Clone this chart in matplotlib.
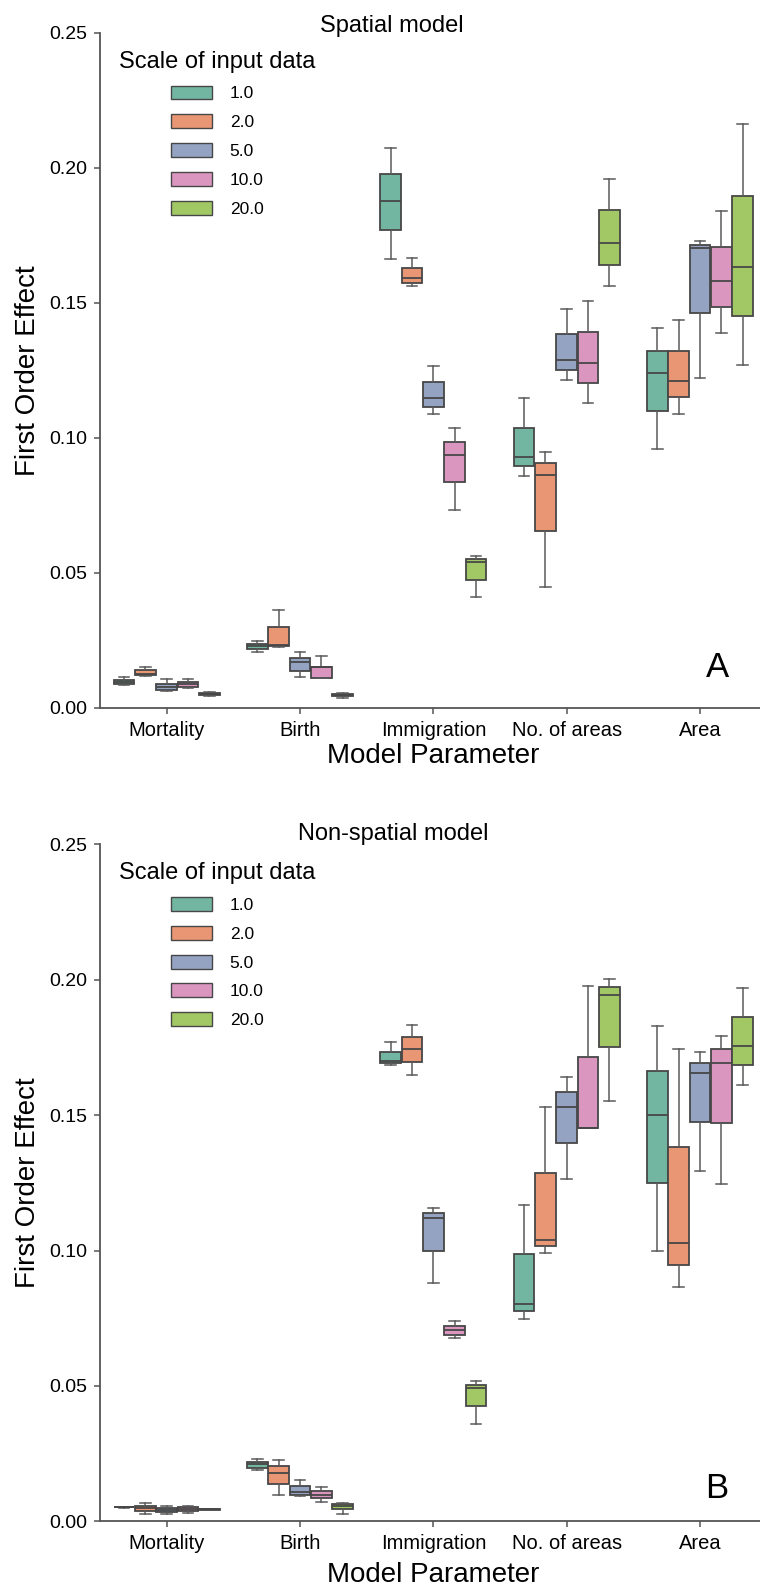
import colorsys
import matplotlib
matplotlib.use("Agg")
import matplotlib.pyplot as plt
from matplotlib.patches import Patch

plt.rcParams['font.family'] = ['Liberation Sans', 'DejaVu Sans']

params = ["Mortality", "Birth", "Immigration", "No. of areas", "Area"]
scales = ["1.0", "2.0", "5.0", "10.0", "20.0"]
titles = ["Spatial model", "Non-spatial model"]
panel_tags = ["A", "B"]

# ---- Spatial model: per parameter, per scale (1, 2, 5, 10, 20) ----
spatial_whislo = [
    [0.0084, 0.0119, 0.0063, 0.0073, 0.00444],
    [0.02074, 0.02248, 0.01148, 0.0110, 0.00348],
    [0.1661, 0.1562, 0.1087, 0.0733, 0.0409],
    [0.0858, 0.0447, 0.1214, 0.1127, 0.1563],
    [0.0958, 0.1089, 0.1221, 0.1387, 0.1268],
]
spatial_q1 = [
    [0.00867, 0.01211, 0.00644, 0.00756, 0.00459],
    [0.02185, 0.02274, 0.0137, 0.01111, 0.00422],
    [0.1769, 0.1574, 0.1115, 0.0836, 0.0473],
    [0.0894, 0.0653, 0.1251, 0.1204, 0.1641],
    [0.1098, 0.1150, 0.1463, 0.1483, 0.1452],
]
spatial_med = [
    [0.00952, 0.01259, 0.00767, 0.00867, 0.00507],
    [0.02296, 0.02311, 0.01704, 0.0149, 0.0047],
    [0.1878, 0.1593, 0.1146, 0.0936, 0.0539],
    [0.0929, 0.0863, 0.1289, 0.1278, 0.1722],
    [0.1239, 0.1211, 0.1704, 0.1581, 0.1632],
]
spatial_q3 = [
    [0.01026, 0.01396, 0.00867, 0.00952, 0.00544],
    [0.0237, 0.0300, 0.01852, 0.01496, 0.00519],
    [0.1977, 0.1630, 0.1205, 0.0984, 0.0550],
    [0.1035, 0.0906, 0.1385, 0.1391, 0.1842],
    [0.1321, 0.1322, 0.1714, 0.1707, 0.1896],
]
spatial_whishi = [
    [0.01137, 0.01496, 0.01052, 0.01052, 0.0057],
    [0.0247, 0.03607, 0.02074, 0.01926, 0.00544],
    [0.2074, 0.1667, 0.1267, 0.1036, 0.0563],
    [0.1146, 0.0948, 0.1478, 0.1505, 0.1958],
    [0.1405, 0.1435, 0.1727, 0.1839, 0.2163],
]

# ---- Non-spatial model ----
nonspatial_whislo = [
    [0.0050, 0.0028, 0.0028, 0.0030, 0.0042],
    [0.0189, 0.0098, 0.0092, 0.0070, 0.0027],
    [0.1685, 0.1649, 0.0881, 0.0677, 0.0359],
    [0.0748, 0.0991, 0.1264, 0.1451, 0.1553],
    [0.0999, 0.0864, 0.1294, 0.1244, 0.1611],
]
nonspatial_q1 = [
    [0.0051, 0.0038, 0.0034, 0.0037, 0.0043],
    [0.0198, 0.0138, 0.0098, 0.0085, 0.0045],
    [0.1692, 0.1696, 0.0998, 0.0689, 0.0426],
    [0.0775, 0.1017, 0.1398, 0.1451, 0.1750],
    [0.1249, 0.0945, 0.1475, 0.1470, 0.1685],
]
nonspatial_med = [
    [0.0052, 0.0049, 0.0043, 0.0044, 0.0044],
    [0.0210, 0.0177, 0.0109, 0.0098, 0.0057],
    [0.1699, 0.1743, 0.1119, 0.0706, 0.0493],
    [0.0804, 0.1039, 0.1529, 0.1453, 0.1945],
    [0.1499, 0.1027, 0.1654, 0.1694, 0.1756],
]
nonspatial_q3 = [
    [0.0053, 0.0058, 0.0050, 0.0053, 0.0045],
    [0.0219, 0.0203, 0.0129, 0.0112, 0.0064],
    [0.1734, 0.1787, 0.1140, 0.0720, 0.0503],
    [0.0987, 0.1286, 0.1584, 0.1716, 0.1973],
    [0.1663, 0.1383, 0.1693, 0.1743, 0.1862],
]
nonspatial_whishi = [
    [0.0054, 0.0069, 0.0056, 0.0056, 0.0046],
    [0.0231, 0.0227, 0.0153, 0.0126, 0.0069],
    [0.1769, 0.1833, 0.1158, 0.0740, 0.0519],
    [0.1169, 0.1531, 0.1641, 0.1976, 0.2001],
    [0.1830, 0.1743, 0.1734, 0.1792, 0.1969],
]

set2 = ["#66c2a5", "#fc8d62", "#8da0cb", "#e78ac3", "#a6d854"]


def desat(hexc, prop=0.75):
    r, g, b = matplotlib.colors.to_rgb(hexc)
    h, l, s = colorsys.rgb_to_hls(r, g, b)
    return colorsys.hls_to_rgb(h, l, s * prop)


colors = [desat(c) for c in set2]
gray = "#474747"
wgray = "#5a5a5a"

panels = [
    (spatial_whislo, spatial_q1, spatial_med, spatial_q3, spatial_whishi),
    (nonspatial_whislo, nonspatial_q1, nonspatial_med, nonspatial_q3, nonspatial_whishi),
]

W, H = 760, 1585
fig = plt.figure(figsize=(W / 100, H / 100), dpi=100)

# axes rects in pixels: (left, top, right, bottom)
rects = [(100, 32.7, 760, 707.7), (100, 844.3, 760, 1521.3)]
title_base = [(392, 31.7), (393, 840)]
tag_pos = [(718, 667), (717, 1489)]
xlabel_base = [763, 1581.6]

nh = len(scales)
group_w = 0.8
bw = group_w / nh
px_per_cat = 133.33

for p, (wl, q1, md, q3, wh) in enumerate(panels):
    l, t, r, b = rects[p]
    ax = fig.add_axes([l / W, 1 - b / H, (r - l) / W, (b - t) / H])
    for i in range(len(params)):
        for j in range(nh):
            stats = [dict(whislo=wl[i][j], q1=q1[i][j], med=md[i][j],
                          q3=q3[i][j], whishi=wh[i][j], fliers=[])]
            pos = i - group_w / 2 + bw * (j + 0.5)
            ax.bxp(stats, positions=[pos], widths=bw * 0.98, patch_artist=True,
                   showfliers=False, manage_ticks=False,
                   boxprops=dict(facecolor=colors[j], edgecolor=gray, linewidth=1.3),
                   medianprops=dict(color=gray, linewidth=1.3),
                   whiskerprops=dict(color=wgray, linewidth=1.1),
                   capprops=dict(color=wgray, linewidth=1.1))
    xmax = -0.5 + (r - l) / px_per_cat
    ax.set_xlim(-0.5, xmax)
    ax.set_ylim(0, 0.25)
    ax.set_xticks(range(len(params)))
    ax.set_xticklabels(params)
    ax.set_yticks([0.0, 0.05, 0.10, 0.15, 0.20, 0.25])
    ax.set_yticklabels(["0.00", "0.05", "0.10", "0.15", "0.20", "0.25"])
    ax.tick_params(axis='both', length=4, width=1.1,
                   color="#555555", direction='out')
    ax.tick_params(axis='y', pad=5, labelsize=14)
    ax.tick_params(axis='x', pad=5.5, labelsize=14.5)
    for s in ["top", "right"]:
        ax.spines[s].set_visible(False)
    for s in ["left", "bottom"]:
        ax.spines[s].set_color("#555555")
        ax.spines[s].set_linewidth(1.3)

    ax.set_ylabel("First Order Effect", fontsize=20, va='center')
    ax.yaxis.set_label_coords((28 - l) / (r - l), 0.5)
    ax.set_xlabel("Model Parameter", fontsize=20, va='baseline')
    ax.xaxis.set_label_coords((2 + 0.5) / (xmax + 0.5),
                              (b - xlabel_base[p]) / (b - t))

    fig.text(title_base[p][0] / W, 1 - title_base[p][1] / H, titles[p],
             fontsize=17, ha='center', va='baseline')
    ax.text((tag_pos[p][0] - l) / (r - l), (b - tag_pos[p][1]) / (b - t),
            panel_tags[p], fontsize=25, ha='center', va='center',
            transform=ax.transAxes)

    handles = [Patch(facecolor=colors[j], edgecolor=gray, linewidth=1.0)
               for j in range(nh)]
    leg = ax.legend(handles, scales, title="Scale of input data",
                    loc='upper left',
                    bbox_to_anchor=((119 - l) / (r - l), (b - (t + 18)) / (b - t)),
                    frameon=False, fontsize=12.5, title_fontsize=17,
                    handlelength=2.4, handleheight=0.85, handletextpad=1.0,
                    labelspacing=0.74, borderpad=0, borderaxespad=0)

fig.savefig("out.png", dpi=100)
